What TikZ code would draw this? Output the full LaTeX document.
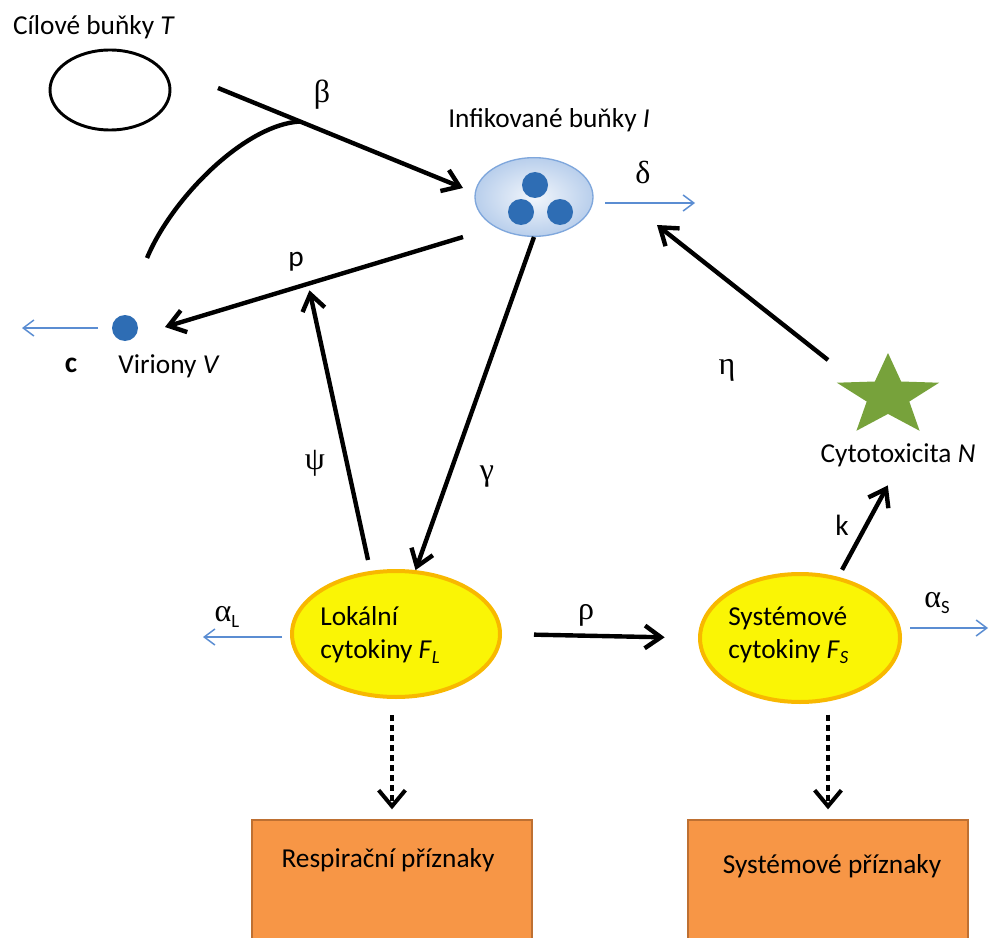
\documentclass[tikz,border=0pt]{standalone}
\usepackage{fontspec}
\setmainfont{Carlito}
\newfontfamily\grkfont{Liberation Serif}
\usetikzlibrary{arrows.meta,shapes.geometric}
\definecolor{celblue}{RGB}{46,109,180}
\definecolor{celrim}{RGB}{127,167,220}
\definecolor{flowblue}{RGB}{91,141,210}
\definecolor{cytyellow}{RGB}{250,245,5}
\definecolor{cytrim}{RGB}{248,184,0}
\definecolor{symorange}{RGB}{247,150,70}
\definecolor{symrim}{RGB}{190,112,50}
\definecolor{killgreen}{RGB}{119,162,59}
\newcommand{\lowsub}[1]{\raisebox{-0.35ex}{\fontsize{14}{14}\selectfont #1}}

\begin{document}
\begin{tikzpicture}[x=0.75pt,y=-0.75pt,
    txt/.style={font=\fontsize{20.5}{25}\selectfont, inner sep=0pt},
    grk/.style={font=\fontsize{24}{24}\selectfont\grkfont, inner sep=0pt},
    arr/.style={line width=3.3pt, -{Straight Barb[length=12pt,width=17pt]}},
    flow/.style={flowblue, line width=1.1pt, -{Straight Barb[length=8pt,width=12pt]}},
    cyto/.style={ellipse, draw=cytrim, line width=3pt, fill=cytyellow},
    symbox/.style={rectangle, draw=symrim, line width=2pt, fill=symorange,
      minimum width=210pt, minimum height=91.5pt},
    dotarr/.style={line width=3pt, dash pattern=on 4.5pt off 3pt,
      -{Straight Barb[length=12pt,width=20pt]}}]
  \useasboundingbox (0,0) rectangle (992,938);

  % cells
  \node[ellipse, draw, line width=2.2pt, minimum width=90pt, minimum height=60pt] (T) at (110,90) {};
  \node[txt, anchor=base] (Tlbl) at (94,35) {Cílové buňky \textit{T}};
  \node[ellipse, draw=celrim, line width=1pt, inner color=celrim!10, outer color=celrim!55,
    minimum width=88.5pt, minimum height=59pt] (I) at (534,197) {};
  \foreach \p in {(535,185),(521,212),(560,212)}
    \fill[celblue] \p circle (9.75pt);
  \node[txt, anchor=base] (Ilbl) at (549,128) {Infikované buňky \textit{I}};
  \node[circle, fill=celblue, minimum size=19.5pt, inner sep=0pt] (V) at (125,328) {};
  \node[txt, anchor=base] (Vlbl) at (169,373) {Viriony \textit{V}};
  \node[txt, font=\fontsize{22}{22}\selectfont\bfseries, anchor=base] (clbl) at (71,372) {c};

  % cytokines
  \node[cyto, minimum width=156pt, minimum height=94.5pt] (FL) at (396,634) {};
  \node[txt, align=left, anchor=west] (FLtxt) at (320,635) {Lokální\\cytokiny \textit{F}\lowsub{\textit{L}}};
  \node[cyto, minimum width=150pt, minimum height=96pt] (FS) at (800,638) {};
  \node[txt, align=left, anchor=west] (FStxt) at (728,635) {Systémové\\cytokiny \textit{F}\lowsub{\textit{S}}};

  % cytotoxicity
  \node[star, star points=5, star point ratio=2.4, minimum size=64.5pt, inner sep=0pt,
    fill=killgreen, xscale=1.25] (N) at (888,396) {};
  \node[txt, anchor=base] (Nlbl) at (898,462) {Cytotoxicita \textit{N}};

  % symptoms
  \node[symbox] (R1) at (392,881) {};
  \node[txt, anchor=base] (R1txt) at (388,867) {Respirační příznaky};
  \node[symbox] (R2) at (828,881) {};
  \node[txt, anchor=base] (R2txt) at (832,873) {Systémové příznaky};

  % black arrows
  \draw[arr] ([shift={(108,-2)}]T.center) -- coordinate[pos=0.335] (bj) ([shift={(-71,-9)}]I.center);
  \draw[line width=3.3pt] ([shift={(22,-70)}]V.center) .. controls +(25,-60) and +(-55,3) .. (bj);
  \draw[arr] ([shift={(-71,40)}]I.center) -- coordinate[pos=0.52] (pj) ([shift={(40,-1)}]V.center);
  \draw[arr, shorten >=5pt] ([shift={(-28,-74)}]FL.center) -- (pj);
  \draw[arr] (I.south) -- (FL.73);
  \draw[arr] ([shift={(-60,-36)}]N.center) -- ([shift={(123,28)}]I.center);
  \draw[arr, shorten <=6pt, shorten >=16pt] (FS.58) -- (Nlbl.south);
  \draw[arr, shorten <=24pt, shorten >=25pt] (FL.east) -- (FS.west);

  % outflows
  \draw[flow] ([shift={(71,6)}]I.center) -- ([shift={(161,6)}]I.center);
  \draw[flow] ([shift={(-27,0)}]V.center) -- ([shift={(-103,0)}]V.center);
  \draw[flow] ([shift={(-114,3)}]FL.center) -- ([shift={(-193,3)}]FL.center);
  \draw[flow] ([shift={(110,-10)}]FS.center) -- ([shift={(188,-10)}]FS.center);

  % dotted arrows
  \draw[dotarr, shorten <=12pt, shorten >=7pt] (R1.north |- FL.south) -- (R1.north);
  \draw[dotarr, shorten <=8pt, shorten >=7pt] (R2.north |- FS.south) -- (R2.north);

  % rates
  \node[grk] (beta) at (322,95) {β};
  \node[grk] (delta) at (643,172) {δ};
  \node[txt, font=\fontsize{22}{22}\selectfont] (plbl) at (296,262) {p};
  \node[grk] (psi) at (315,463) {ψ};
  \node[grk] (gamma) at (487,477) {γ};
  \node[grk] (eta) at (727,370) {η};
  \node[txt, font=\fontsize{22}{22}\selectfont] (klbl) at (842,525) {k};
  \node[grk] (rho) at (586,615) {ρ};
  \node[grk] (alphaL) at (227,617) {α\lowsub{\rmfamily L}};
  \node[grk] (alphaS) at (937,603) {α\lowsub{\rmfamily S}};
\end{tikzpicture}
\end{document}
